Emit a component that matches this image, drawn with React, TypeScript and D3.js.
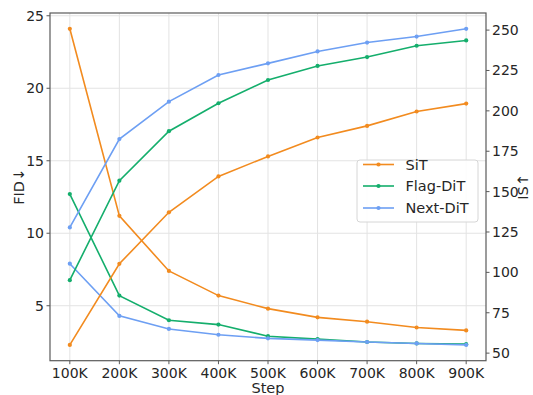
import React from "react";
import * as d3 from "d3";

const steps = [100, 200, 300, 400, 500, 600, 700, 800, 900];
const stepLabels = ["100K", "200K", "300K", "400K", "500K", "600K", "700K", "800K", "900K"];
const seriesNames = ["SiT", "Flag-DiT", "Next-DiT"];
const seriesColors = ["#f28b1f", "#14ae6c", "#6d9ff3"];

// FID (left axis, lower is better)
const fidSiT = [24.1, 11.2, 7.4, 5.7, 4.8, 4.2, 3.9, 3.5, 3.3];
const fidFlag = [12.7, 5.7, 4.0, 3.7, 2.9, 2.7, 2.5, 2.4, 2.35];
const fidNext = [7.9, 4.3, 3.4, 3.0, 2.75, 2.63, 2.5, 2.4, 2.3];

// IS (right axis, higher is better)
const isSiT = [55.1, 105.3, 137.2, 159.4, 171.8, 183.5, 190.7, 199.6, 204.5];
const isFlag = [95.2, 156.8, 187.4, 204.7, 219.1, 227.8, 233.3, 240.3, 243.6];
const isNext = [127.8, 182.5, 205.7, 222.2, 229.4, 236.8, 242.3, 246.0, 250.8];

const fidTicks = [5, 10, 15, 20, 25];
const isTicks = [50, 75, 100, 125, 150, 175, 200, 225, 250];

const W = 533;
const H = 395;
const left = 50;
const right = 486;
const top = 13;
const bottom = 360.7;
const FONT = "DejaVu Sans, sans-serif";
const TEXT = "#262626";

export default function App() {
  const x = d3.scaleLinear().domain([60, 940]).range([left, right]);
  const fidAll = [...fidSiT, ...fidFlag, ...fidNext];
  const isAll = [...isSiT, ...isFlag, ...isNext];
  const pad = (arr: number[]) => {
    const lo = d3.min(arr)!;
    const hi = d3.max(arr)!;
    const m = (hi - lo) * 0.05;
    return [lo - m, hi + m];
  };
  const yF = d3.scaleLinear().domain(pad(fidAll)).range([bottom, top]);
  const yI = d3.scaleLinear().domain(pad(isAll)).range([bottom, top]);

  const fidSeries = [fidSiT, fidFlag, fidNext];
  const isSeries = [isSiT, isFlag, isNext];

  const lineF = d3
    .line<number>()
    .x((_, i) => x(steps[i]))
    .y((d) => yF(d));
  const lineI = d3
    .line<number>()
    .x((_, i) => x(steps[i]))
    .y((d) => yI(d));

  const drawSeries = (
    data: number[][],
    gen: d3.Line<number>,
    y: d3.ScaleLinear<number, number>,
    key: string
  ) =>
    data.map((vals, si) => (
      <g key={key + si}>
        <path d={gen(vals) || ""} fill="none" stroke={seriesColors[si]} strokeWidth={1.6} />
        {vals.map((v, i) => (
          <circle key={i} cx={x(steps[i])} cy={y(v)} r={2.1} fill={seriesColors[si]} />
        ))}
      </g>
    ));

  const legendX = 357;
  const legendY = 160;
  const legendW = 121;
  const legendH = 62;
  const rowY = [164.5, 186, 208];

  return (
    <svg
      width={W}
      height={H}
      style={{ position: "absolute", left: 0, top: 0, background: "#fff" }}
      fontFamily={FONT}
    >
      <rect width={W} height={H} fill="#fff" />
      {/* grid */}
      <g stroke="#e3e3e3" strokeWidth={1}>
        {steps.map((s) => (
          <line key={"gx" + s} x1={x(s)} x2={x(s)} y1={top} y2={bottom} />
        ))}
        {fidTicks.map((t) => (
          <line key={"gy" + t} x1={left} x2={right} y1={yF(t)} y2={yF(t)} />
        ))}
      </g>

      {drawSeries(fidSeries, lineF, yF, "f")}
      {drawSeries(isSeries, lineI, yI, "i")}

      {/* frame */}
      <rect
        x={left}
        y={top}
        width={right - left}
        height={bottom - top}
        fill="none"
        stroke="#5a5a5a"
        strokeWidth={1.2}
      />

      {/* x ticks */}
      <g fontSize={14} fill={TEXT} textAnchor="middle">
        {steps.map((s, i) => (
          <g key={"xt" + s}>
            <line x1={x(s)} x2={x(s)} y1={bottom} y2={bottom + 3.5} stroke="#5a5a5a" />
            <text x={x(s)} y={bottom + 17}>{stepLabels[i]}</text>
          </g>
        ))}
      </g>
      {/* left ticks */}
      <g fontSize={14} fill={TEXT} textAnchor="end">
        {fidTicks.map((t) => (
          <g key={"yl" + t}>
            <line x1={left - 3.5} x2={left} y1={yF(t)} y2={yF(t)} stroke="#5a5a5a" />
            <text x={left - 6} y={yF(t)} dy="0.35em">{t}</text>
          </g>
        ))}
      </g>
      {/* right ticks */}
      <g fontSize={14} fill={TEXT} textAnchor="start">
        {isTicks.map((t) => (
          <g key={"yr" + t}>
            <line x1={right} x2={right + 3.5} y1={yI(t)} y2={yI(t)} stroke="#5a5a5a" />
            <text x={right + 6} y={yI(t)} dy="0.35em">{t}</text>
          </g>
        ))}
      </g>

      {/* axis titles */}
      <text x={(left + right) / 2} y={393} fontSize={14.5} fill={TEXT} textAnchor="middle">
        Step
      </text>
      <text
        transform={`translate(19,${(top + bottom) / 2}) rotate(-90)`}
        fontSize={14.5}
        fill={TEXT}
        textAnchor="middle"
        dy="0.35em"
      >
        FID↓
      </text>
      <text
        transform={`translate(523,${(top + bottom) / 2}) rotate(-90)`}
        fontSize={14.5}
        fill={TEXT}
        textAnchor="middle"
        dy="0.35em"
      >
        IS↑
      </text>

      {/* legend */}
      <rect
        x={legendX}
        y={legendY}
        width={legendW}
        height={legendH}
        rx={3}
        fill="#fff"
        fillOpacity={0.9}
        stroke="#d6d6d6"
      />
      {seriesNames.map((n, i) => (
        <g key={"lg" + n}>
          <line x1={363} x2={394} y1={rowY[i]} y2={rowY[i]} stroke={seriesColors[i]} strokeWidth={1.6} />
          <circle cx={378.5} cy={rowY[i]} r={2.1} fill={seriesColors[i]} />
          <text x={405.5} y={rowY[i]} dy="0.35em" fontSize={14.5} fill={TEXT}>
            {n}
          </text>
        </g>
      ))}
    </svg>
  );
}
